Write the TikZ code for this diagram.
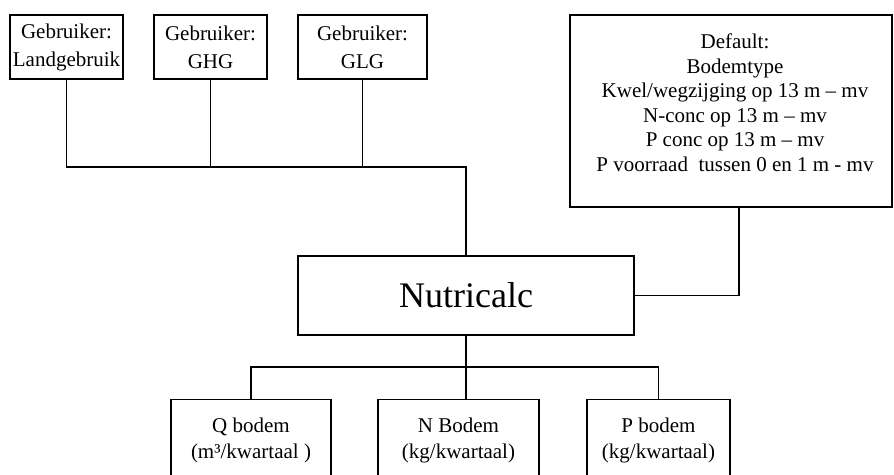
\documentclass[tikz,border=0pt]{standalone}
\usepackage{fontspec}
\setmainfont{Liberation Serif}
\begin{document}
\begin{tikzpicture}[x=1pt,y=-1pt,
  boxstyle/.style={draw,line width=1.2pt,rectangle,inner sep=0pt,align=center},
  thinline/.style={line width=1.2pt},
  thickline/.style={line width=2.2pt},
  gfont/.style={font=\fontsize{21}{28}\selectfont},
  dfont/.style={font=\fontsize{21}{24.5}\selectfont},
  bfont/.style={font=\fontsize{21}{26}\selectfont}]
\useasboundingbox (0,0) rectangle (894,474);
\clip (0,0) rectangle (894,474);
% top user boxes
\node[boxstyle,gfont,minimum width=113pt,minimum height=64pt] (g1) at (66.5,47) {Gebruiker:\\Landgebruik};
\node[boxstyle,gfont,minimum width=113pt,minimum height=64pt] (g2) at (210.5,47) {Gebruiker:\\GHG};
\node[boxstyle,gfont,minimum width=129pt,minimum height=64pt] (g3) at (362.5,47) {Gebruiker:\\GLG};
% default box
\node[boxstyle,minimum width=322pt,minimum height=192pt] (def) at (731,111) {};
\node[dfont,align=center,inner sep=0pt] (deftext) at (735,102.5) {Default:\\Bodemtype\\Kwel/wegzijging op 13 m -- mv\\N-conc op 13 m -- mv\\P conc op 13 m -- mv\\P voorraad\ \ tussen 0 en 1 m - mv};
% central box
\node[boxstyle,font=\fontsize{36}{40}\selectfont,minimum width=336pt,minimum height=79pt] (nutri) at (466,295.5) {Nutricalc};
% bottom boxes (cut off at lower edge)
\node[boxstyle,bfont,minimum width=160pt,minimum height=82pt,anchor=north] (qbox) at (251,399) {Q bodem\\(m³/kwartaal )};
\node[boxstyle,bfont,minimum width=161pt,minimum height=82pt,anchor=north] (nbox) at (458.5,399) {N Bodem\\(kg/kwartaal)};
\node[boxstyle,bfont,minimum width=143pt,minimum height=82pt,anchor=north] (pbox) at (658.5,399) {P bodem\\(kg/kwartaal)};
% connectors
\coordinate (bus) at (0,167);
\coordinate (bbus) at (0,367);
\coordinate (dj) at (739,295.5);
\draw[thinline] (g1.south) -- (g1.south |- bus) -- (g2.south |- bus);
\draw[thinline] (g2.south) -- (g2.south |- bus);
\draw[thinline] (g3.south) -- (g3.south |- bus);
\draw[thickline] (g2.south |- bus) -- (nutri.north |- bus) -- (nutri.north);
\draw[thinline] (nutri.east) -- (dj) -- (dj |- def.south);
\draw[thickline] (nutri.south) -- (nutri.south |- bbus);
\draw[thinline] (nutri.south |- bbus) -- (nutri.south |- nbox.north);
\draw[thinline] (qbox.north) -- (qbox.north |- bbus) -- (pbox.north |- bbus) -- (pbox.north);
\end{tikzpicture}
\end{document}
